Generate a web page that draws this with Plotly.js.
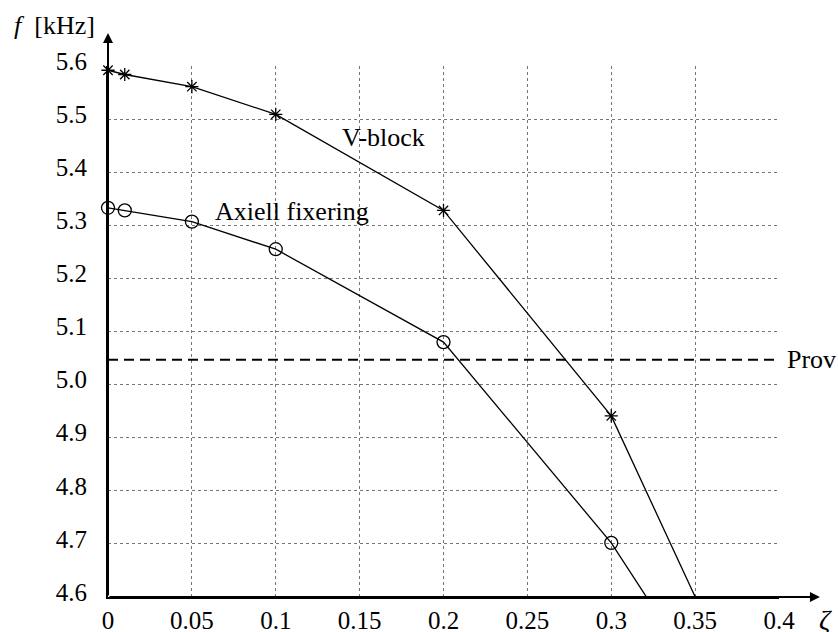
<!DOCTYPE html>
<html>
<head>
<meta charset="utf-8">
<script src="https://cdn.plot.ly/plotly-3.0.1.min.js"></script>
<style>html,body{margin:0;padding:0;background:#fff;}#chart{width:838px;height:632px;}</style>
</head>
<body>
<div id="chart"></div>
<script>
// Damping ratio (zeta) values
const vblockX = [0, 0.01, 0.05, 0.1, 0.2, 0.3, 0.4];
const vblockY = [5.592, 5.584, 5.561, 5.509, 5.328, 4.941, 4.26];
const axiellX = [0, 0.01, 0.05, 0.1, 0.2, 0.3, 0.4];
const axiellY = [5.333, 5.328, 5.307, 5.255, 5.080, 4.702, 4.216];
const provX = [0, 0.4];
const provY = [5.047, 5.047];
const xTicks = [0, 0.05, 0.1, 0.15, 0.2, 0.25, 0.3, 0.35, 0.4];
const xTickText = ['0', '0.05', '0.1', '0.15', '0.2', '0.25', '0.3', '0.35', '0.4'];
const yTicks = [4.6, 4.7, 4.8, 4.9, 5.0, 5.1, 5.2, 5.3, 5.4, 5.5, 5.6];
const yTickText = ['4.6', '4.7', '4.8', '4.9', '5.0', '5.1', '5.2', '5.3', '5.4', '5.5', '5.6'];

const FONT = 'Liberation Serif';
const measured = 6; // number of measured points shown with markers

const traces = [
  {
    x: provX, y: provY, mode: 'lines', type: 'scatter',
    line: {color: '#000', width: 2, dash: '10px,6px'}, hoverinfo: 'skip'
  },
  {
    x: vblockX, y: vblockY, mode: 'lines', type: 'scatter',
    line: {color: '#000', width: 1.3}
  },
  {
    x: axiellX, y: axiellY, mode: 'lines', type: 'scatter',
    line: {color: '#000', width: 1.3}
  },
  {
    x: vblockX.slice(0, measured), y: vblockY.slice(0, measured), mode: 'markers', type: 'scatter',
    cliponaxis: false,
    marker: {symbol: 'asterisk-open', size: 11, color: '#000', line: {color: '#000', width: 1.3}}
  },
  {
    x: axiellX.slice(0, measured), y: axiellY.slice(0, measured), mode: 'markers', type: 'scatter',
    cliponaxis: false,
    marker: {symbol: 'circle-open', size: 13, color: '#000', line: {color: '#000', width: 1.3}}
  }
];

const layout = {
  width: 838, height: 632,
  margin: {l: 108, r: 59, t: 66, b: 35},
  paper_bgcolor: '#fff', plot_bgcolor: '#fff',
  showlegend: false,
  font: {family: FONT, size: 25, color: '#000'},
  xaxis: {
    range: [0, 0.4], tickvals: xTicks, ticktext: xTickText,
    showgrid: true, gridcolor: '#777', griddash: 'dot', gridwidth: 1,
    showline: true, linecolor: '#000', linewidth: 2,
    zeroline: false, ticks: '', ticklabelstandoff: 0,
    tickfont: {family: FONT, size: 25, color: '#000'}
  },
  yaxis: {
    range: [4.6, 5.6], tickvals: yTicks, ticktext: yTickText,
    showgrid: true, gridcolor: '#777', griddash: 'dot', gridwidth: 1,
    showline: true, linecolor: '#000', linewidth: 2,
    zeroline: false, ticks: '', ticklabelstandoff: 14, ticklabelshift: -5,
    tickfont: {family: FONT, size: 25, color: '#000'}
  },
  annotations: [
    {xref: 'paper', yref: 'paper', x: 0, y: 1.062, ax: 0, ay: 564, axref: 'pixel', ayref: 'pixel',
     showarrow: true, arrowhead: 2, arrowsize: 1, arrowwidth: 2, arrowcolor: '#000', text: ''},
    {xref: 'paper', yref: 'paper', x: 1.061, y: 0, ax: -712, ay: 0, axref: 'pixel', ayref: 'pixel',
     showarrow: true, arrowhead: 2, arrowsize: 1, arrowwidth: 2, arrowcolor: '#000', text: ''},
    {xref: 'x', yref: 'y', x: 0.164, y: 5.465, xanchor: 'center', yanchor: 'middle', text: 'V-block', showarrow: false,
     font: {family: FONT, size: 26, color: '#000'}},
    {xref: 'x', yref: 'y', x: 0.1094, y: 5.326, xanchor: 'center', yanchor: 'middle', text: 'Axiell fixering', showarrow: false,
     font: {family: FONT, size: 26, color: '#000'}},
    {xref: 'paper', yref: 'y', x: 1.009, y: 5.047, xanchor: 'left', yanchor: 'middle', text: 'Prov', showarrow: false,
     font: {family: FONT, size: 26, color: '#000'}},
    {xref: 'paper', yref: 'paper', x: -0.079, y: 1.077, xanchor: 'center', yanchor: 'middle', text: '<i>f</i>  [kHz]', showarrow: false,
     font: {family: FONT, size: 26, color: '#000'}},
    {xref: 'paper', yref: 'paper', x: 1.0686, y: -0.043, xanchor: 'center', yanchor: 'middle', text: '<i>ζ</i>', showarrow: false,
     font: {family: FONT, size: 28, color: '#000'}}
  ]
};

Plotly.newPlot('chart', traces, layout, {displayModeBar: false, staticPlot: true});
</script>
</body>
</html>
